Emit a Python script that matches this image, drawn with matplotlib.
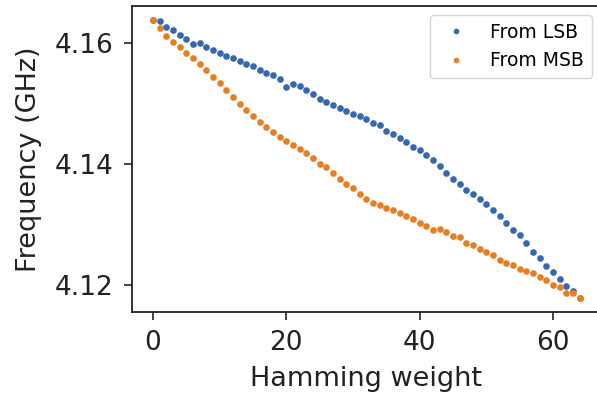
"""
plot.py
frequency vs Hamming weight, flipping bits starting from the LSB or the MSB.
"""

import matplotlib
matplotlib.use("Agg")
import matplotlib.pyplot as plt
import numpy as np

# Hamming weight 0..64
hamming = np.arange(65)

# frequency (GHz)
freq_lsb = [
    4.16373, 4.16360, 4.16264, 4.16208, 4.16125, 4.16066, 4.15972, 4.15988,
    4.15927, 4.15878, 4.15823, 4.15779, 4.15746, 4.15696, 4.15653, 4.15614,
    4.15543, 4.15505, 4.15460, 4.15406, 4.15274, 4.15323, 4.15284, 4.15218,
    4.15147, 4.15064, 4.15020, 4.14970, 4.14927, 4.14866, 4.14817, 4.14795,
    4.14746, 4.14680, 4.14635, 4.14541, 4.14487, 4.14421, 4.14363, 4.14277,
    4.14231, 4.14149, 4.14058, 4.13970, 4.13855, 4.13752, 4.13662, 4.13574,
    4.13502, 4.13426, 4.13340, 4.13236, 4.13139, 4.13035, 4.12914, 4.12823,
    4.12700, 4.12553, 4.12457, 4.12325, 4.12226, 4.12101, 4.11995, 4.11901,
    4.11797,
]
freq_msb = [
    4.16373, 4.16236, 4.16116, 4.16013, 4.15922, 4.15835, 4.15738, 4.15647,
    4.15548, 4.15439, 4.15328, 4.15216, 4.15097, 4.14982, 4.14894, 4.14795,
    4.14698, 4.14611, 4.14533, 4.14446, 4.14384, 4.14305, 4.14239, 4.14173,
    4.14102, 4.14003, 4.13954, 4.13851, 4.13756, 4.13678, 4.13596, 4.13510,
    4.13422, 4.13360, 4.13332, 4.13277, 4.13241, 4.13188, 4.13139, 4.13092,
    4.13035, 4.12980, 4.12908, 4.12931, 4.12875, 4.12815, 4.12799, 4.12705,
    4.12667, 4.12597, 4.12548, 4.12507, 4.12424, 4.12370, 4.12342, 4.12271,
    4.12239, 4.12210, 4.12139, 4.12094, 4.12003, 4.11979, 4.11875, 4.11875,
    4.11786,
]

series = [("From LSB", freq_lsb, "#3568b0"),
          ("From MSB", freq_msb, "#e67e22")]


def main() -> None:
    fig = plt.figure(figsize=(5.97, 3.99), dpi=100)
    # the reference is cropped on the right, so the axes run past the edge
    ax = fig.add_axes([0.2203, 0.2173, 0.7864, 0.7677])

    for label, vals, color in series:
        ax.plot(hamming, vals, "o", ls="none", color=color, markersize=4.8,
                markeredgewidth=0, label=label)

    ax.set_xticks([0, 20, 40, 60])
    ax.set_yticks([4.12, 4.14, 4.16])
    ax.set_yticklabels(["4.12", "4.14", "4.16"])
    ax.tick_params(labelsize=19, length=5.8, width=1.2, pad=7,
                   color="#222222", labelcolor="#222222")
    for sp in ax.spines.values():
        sp.set_linewidth(1.3)
        sp.set_color("#222222")

    ax.set_xlabel("Hamming weight", fontsize=19.5, color="#222222", labelpad=7)
    ax.set_ylabel("Frequency (GHz)", fontsize=19.5, color="#222222", labelpad=9)

    ax.legend(loc="upper right", fontsize=13.5, markerscale=0.85,
              handletextpad=0.8, borderaxespad=0.5)

    fig.savefig("out.png", dpi=100)
    plt.close(fig)


if __name__ == "__main__":
    main()
